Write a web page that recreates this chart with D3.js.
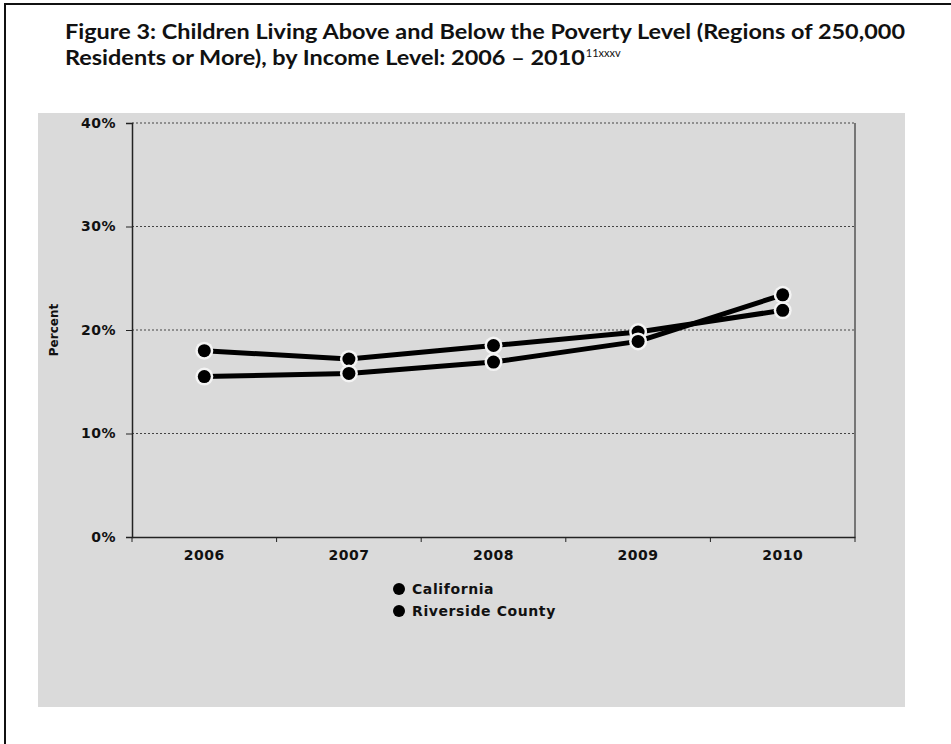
<!DOCTYPE html>
<html>
<head>
<meta charset="utf-8">
<script src="https://cdn.jsdelivr.net/npm/d3@7"></script>
<style>
  html, body { margin: 0; padding: 0; background: #fff; }
  svg { display: block; }
</style>
</head>
<body>
<div id="chart"></div>
<script>
// ---- data ----
const years = ["2006", "2007", "2008", "2009", "2010"];
const california = [18.0, 17.2, 18.5, 19.8, 21.9];
const riverside = [15.5, 15.8, 16.9, 18.9, 23.4];
const seriesNames = ["California", "Riverside County"];
const yTickValues = [0, 10, 20, 30, 40];
const titleLine1 = "Figure 3:  Children Living Above and Below the Poverty Level (Regions of 250,000";
const titleLine2 = "Residents or More), by Income Level: 2006 \u2013 2010";
const titleSup = "11xxxv";
const yAxisTitle = "Percent";

const W = 951, H = 744;
const svg = d3.select("#chart").append("svg").attr("width", W).attr("height", H);
svg.append("rect").attr("width", W).attr("height", H).attr("fill", "#fff");

// page border (top + left)
svg.append("path").attr("d", `M5,${H} V4 H${W}`).attr("fill", "none")
  .attr("stroke", "#111").attr("stroke-width", 2);

// title
const tf = "Lato, 'Open Sans', sans-serif";
const t1 = svg.append("text").attr("x", 65).attr("y", 39)
  .attr("font-family", tf).attr("font-weight", 700).attr("font-size", 20)
  .attr("fill", "#111").text(titleLine1);
const nat1 = t1.node().getComputedTextLength();
const k = 840 / nat1;
t1.attr("textLength", 840).attr("lengthAdjust", "spacingAndGlyphs");
const t2 = svg.append("text").attr("x", 65).attr("y", 65)
  .attr("font-family", tf).attr("font-weight", 700).attr("font-size", 20)
  .attr("fill", "#111").text(titleLine2);
const nat2 = t2.node().getComputedTextLength();
t2.attr("textLength", nat2 * k).attr("lengthAdjust", "spacingAndGlyphs");
svg.append("text").attr("x", 65 + nat2 * k + 1).attr("y", 57)
  .attr("font-family", tf).attr("font-size", 11).attr("fill", "#111").text(titleSup);

// chart area background
svg.append("rect").attr("x", 38).attr("y", 113).attr("width", 867).attr("height", 594)
  .attr("fill", "#dadada");

const m = { left: 132, right: 855, top: 123, bottom: 537 };
const x = d3.scaleBand().domain(years).range([m.left, m.right]).paddingInner(0).paddingOuter(0);
const y = d3.scaleLinear().domain([0, 40]).range([m.bottom, m.top]);
const cx = d => x(d) + x.bandwidth() / 2;

// gridlines
svg.append("g").selectAll("line").data(yTickValues.filter(v => v > 0)).join("line")
  .attr("x1", m.left).attr("x2", m.right)
  .attr("y1", d => y(d)).attr("y2", d => y(d))
  .attr("stroke", "#444").attr("stroke-width", 1).attr("stroke-dasharray", "2,2");

// plot right border
svg.append("line").attr("x1", m.right).attr("x2", m.right).attr("y1", m.top).attr("y2", m.bottom)
  .attr("stroke", "#555").attr("stroke-width", 1.5);

const lf = "'DejaVu Sans', Verdana, sans-serif";

// y axis
const yAxis = d3.axisLeft(y).tickValues(yTickValues).tickFormat(d => d + "%").tickSize(6).tickPadding(10);
const gy = svg.append("g").attr("transform", `translate(${m.left},0)`).call(yAxis);
gy.select(".domain").attr("stroke", "#222").attr("stroke-width", 1.5);
gy.selectAll(".tick line").attr("stroke", "#222");
gy.selectAll(".tick text").attr("font-family", lf).attr("font-weight", 700)
  .attr("font-size", 14).attr("letter-spacing", 0.5).attr("fill", "#111");

// x axis
const xAxis = d3.axisBottom(x).tickSize(0).tickPadding(13);
const gx = svg.append("g").attr("transform", `translate(0,${m.bottom})`).call(xAxis);
gx.select(".domain").attr("stroke", "#222").attr("stroke-width", 1.5);
gx.selectAll(".tick text").attr("font-family", lf).attr("font-weight", 700)
  .attr("font-size", 14).attr("letter-spacing", 0.5).attr("fill", "#111");
// boundary tick marks
const bounds = years.map(d => x(d)).concat([m.right]);
gx.append("g").selectAll("line").data(bounds).join("line")
  .attr("x1", d => d).attr("x2", d => d).attr("y1", 0).attr("y2", 5)
  .attr("stroke", "#222");

// y axis title
svg.append("text").attr("transform", `translate(58,${(m.top + m.bottom) / 2}) rotate(-90)`)
  .attr("text-anchor", "middle").attr("font-family", lf).attr("font-weight", 700)
  .attr("font-size", 12).attr("fill", "#111").text(yAxisTitle);

// series
const series = [california, riverside];
const line = d3.line().x((d, i) => cx(years[i])).y(d => y(d));
series.forEach(vals => {
  svg.append("path").attr("d", line(vals)).attr("fill", "none")
    .attr("stroke", "#000").attr("stroke-width", 5).attr("stroke-linejoin", "round");
});
series.forEach(vals => {
  const g = svg.append("g");
  g.selectAll("circle.halo").data(vals).join("circle").attr("class", "halo")
    .attr("cx", (d, i) => cx(years[i])).attr("cy", d => y(d)).attr("r", 9).attr("fill", "#f4f4f4");
  g.selectAll("circle.dot").data(vals).join("circle").attr("class", "dot")
    .attr("cx", (d, i) => cx(years[i])).attr("cy", d => y(d)).attr("r", 6.5).attr("fill", "#000");
});

// legend
const lg = svg.append("g");
seriesNames.forEach((name, i) => {
  const ly = 589 + i * 22;
  lg.append("circle").attr("cx", 399).attr("cy", ly).attr("r", 6).attr("fill", "#000");
  lg.append("text").attr("x", 412).attr("y", ly + 5).attr("font-family", lf)
    .attr("font-weight", 700).attr("font-size", 14).attr("letter-spacing", 0.6)
    .attr("fill", "#111").text(name);
});
</script>
</body>
</html>
